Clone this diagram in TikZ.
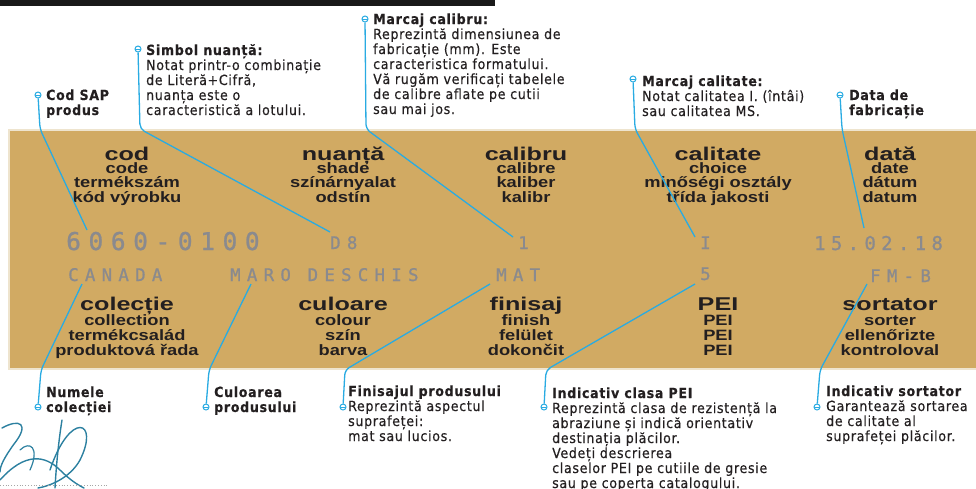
\documentclass[tikz,border=0pt]{standalone}
\usepackage{fontspec}
\setmainfont{Liberation Sans}
\newfontfamily\headfont{Liberation Sans}[FakeStretch=1.36]
\newfontfamily\subfont{Liberation Sans}[FakeStretch=1.22]
\newfontfamily\notefont{DejaVu Sans Condensed}[LetterSpace=5, FakeBold=0.4]
\newfontfamily\codefont{DejaVu Sans Mono}[LetterSpace=31, FakeBold=1]
\newfontfamily\datefont{DejaVu Sans Mono}[LetterSpace=28, FakeBold=0.8]
\newfontfamily\namefont{DejaVu Sans Mono}[LetterSpace=36, FakeBold=0.8]
\usetikzlibrary{calc}
\definecolor{band}{RGB}{209,170,99}
\definecolor{bandedge}{RGB}{238,228,206}
\definecolor{callblue}{RGB}{41,171,226}
\definecolor{ink}{RGB}{35,31,32}
\definecolor{stamp}{RGB}{138,138,142}
\definecolor{sign}{RGB}{44,128,160}

\begin{document}
\begin{tikzpicture}[x=1pt, y=-1pt,
    callout/.style={draw=callblue, line width=1.3pt, rounded corners=5pt},
    dot/.style={circle, draw=callblue, fill=white, line width=1pt, inner sep=0pt, minimum size=6pt,
      path picture={\draw[callblue, line width=0.7pt] (path picture bounding box.west) -- (path picture bounding box.east);}},
    note/.style={font=\notefont\fontsize{14}{15}\selectfont, text=ink, anchor=base west, align=left, inner sep=0pt},
    notebold/.style={note, font=\notefont\bfseries\fontsize{14}{15}\selectfont},
    head/.style={font=\headfont\bfseries\fontsize{18.5}{18.5}\selectfont, text=ink, anchor=base, inner sep=0pt},
    sub/.style={font=\subfont\bfseries\fontsize{15}{15}\selectfont, text=ink, anchor=base, inner sep=0pt},
    codeval/.style={font=\codefont\fontsize{24.5}{24.5}\selectfont, text=stamp, anchor=base west, inner sep=0pt},
    dateval/.style={font=\datefont\fontsize{19}{19}\selectfont, text=stamp, anchor=base west, inner sep=0pt},
    nameval/.style={font=\namefont\fontsize{17.4}{17.4}\selectfont, text=stamp, anchor=base west, inner sep=0pt}]
    \useasboundingbox (0,0) rectangle (976,488);
    \fill[black!90] (0,0) rectangle (495,6);
    \fill[band] (9,130) rectangle (976,369);
    \draw[bandedge, line width=1.5pt] (9,130) rectangle (978,369);

    \foreach \x/\t/\a/\b/\c [count=\i] in {127/cod/code/termékszám/kód výrobku,
        343/nuanță/shade/színárnyalat/odstín, 526/calibru/calibre/kaliber/kalibr,
        718/calitate/choice/minőségi osztály/třída jakosti, 890/dată/date/dátum/datum} {
        \node[head] (top\i) at (\x,160) {\t};
        \node[sub] (top\i-a) at (\x,173) {\a};
        \node[sub] (top\i-b) at (\x,187.5) {\b};
        \node[sub] (top\i-c) at (\x,202) {\c};
    }
    \foreach \x/\t/\a/\b/\c [count=\i] in {127/colecție/collection/termékcsalád/produktová řada,
        343/culoare/colour/szín/barva, 526/finisaj/finish/felület/dokončit,
        718/PEI/PEI/PEI/PEI, 890/sortator/sorter/ellenőrizte/kontroloval} {
        \node[head] (bot\i) at (\x,310) {\t};
        \node[sub] (bot\i-a) at (\x,325) {\a};
        \node[sub] (bot\i-b) at (\x,340) {\b};
        \node[sub] (bot\i-c) at (\x,355) {\c};
    }

    \node[codeval] (vcode) at (66,250) {6060-0100};
    \node[nameval] (vshade) at (330,249) {D8};
    \node[nameval] (vcalib) at (518,249) {1};
    \node[nameval] (vqual) at (700,249) {I};
    \node[dateval] (vdate) at (814,250) {15.02.18};
    \node[nameval] (vcoll) at (68,281) {CANADA};
    \node[nameval] (vcolour) at (230,281) {MARO DESCHIS};
    \node[nameval] (vfinish) at (496,281) {MAT};
    \node[nameval] (vpei) at (700,280) {5};
    \node[nameval] (vsort) at (870,282) {FM-B};

    \node[dot] (dcod) at (38,95) {};
    \node[notebold] (ncod) at (46,115) {Cod SAP\\produs};
    \node[dot] (dshade) at (138,49) {};
    \node[note] (nshade) at (146,115) {\textbf{Simbol nuanță:}\\Notat printr-o combinație\\de Literă+Cifră,\\nuanța este o\\caracteristică a lotului.};
    \node[dot] (dcalib) at (365,19) {};
    \node[note] (ncalib) at (373,114) {\textbf{Marcaj calibru:}\\Reprezintă dimensiunea de\\fabricație (mm). Este\\caracteristica formatului.\\Vă rugăm verificați tabelele\\de calibre aflate pe cutii\\sau mai jos.};
    \node[dot] (dqual) at (633,79) {};
    \node[note] (nqual) at (642,116) {\textbf{Marcaj calitate:}\\Notat calitatea I. (întâi)\\sau calitatea MS.};
    \node[dot] (ddate) at (840,95) {};
    \node[notebold] (ndate) at (849,115) {Data de\\fabricație};

    \node[dot] (dcoll) at (38,407) {};
    \node[notebold] (ncoll) at (46,412) {Numele\\colecției};
    \node[dot] (dcolour) at (206,407) {};
    \node[notebold] (ncolour) at (214,412) {Culoarea\\produsului};
    \node[dot] (dfinish) at (343,407) {};
    \node[note] (nfinish) at (348,441) {\textbf{Finisajul produsului}\\Reprezintă aspectul\\suprafeței:\\mat sau lucios.};
    \node[dot] (dpei) at (544,407) {};
    \node[note] (npei) at (552,488) {\textbf{Indicativ clasa PEI}\\Reprezintă clasa de rezistență la\\abraziune și indică orientativ\\destinația plăcilor.\\Vedeți descrierea\\claselor PEI pe cutiile de gresie\\sau pe coperta catalogului.};
    \node[dot] (dsort) at (817,407) {};
    \node[note] (nsort) at (826,441) {\textbf{Indicativ sortator}\\Garantează sortarea\\de calitate al\\suprafeței plăcilor.};

    \coordinate (kcod) at (40,129);
    \coordinate (tcod) at (87,230);
    \coordinate (kshade) at (140,129);
    \coordinate (tshade) at (330,232);
    \coordinate (kcalib) at (366,129);
    \coordinate (tcalib) at (513,237);
    \coordinate (kqual) at (635,129);
    \coordinate (tqual) at (695,237);
    \coordinate (kdate) at (842,129);
    \coordinate (tdate) at (864,228);
    \coordinate (kcoll) at (41,370);
    \coordinate (tcoll) at (82,284);
    \coordinate (kcolour) at (209,370);
    \coordinate (tcolour) at (251,284);
    \coordinate (kfinish) at (345,370);
    \coordinate (tfinish) at (490,284);
    \coordinate (kpei) at (546,370);
    \coordinate (tpei) at (695,284);
    \coordinate (ksort) at (820,370);
    \coordinate (tsort) at (867,284);
    \foreach \n in {cod,shade,calib,qual,date,coll,colour,finish,pei,sort}
        \draw[callout] (d\n) -- (k\n) -- (t\n);

    \draw[sign, line width=1.4pt, line cap=round] (2,428) .. controls (20,418) and (30,424) .. (14,444) .. controls (4,458) and (0,466) .. (0,472);
    \draw[sign, line width=1.4pt, line cap=round] (62,420) .. controls (58,445) and (56,470) .. (55,488);
    \draw[sign, line width=1.4pt, line cap=round] (50,470) .. controls (70,410) and (100,420) .. (80,460) .. controls (70,478) and (50,486) .. (38,488);
    \draw[sign, line width=1.4pt, line cap=round] (0,480) .. controls (25,452) and (45,455) .. (60,470) .. controls (70,480) and (78,485) .. (84,488);
    \draw[sign, line width=1.2pt, line cap=round] (20,450) .. controls (30,440) and (40,448) .. (30,470);
    \draw[gray!70, dotted, line width=0.8pt] (0,485) -- (108,485);
\end{tikzpicture}
\end{document}
